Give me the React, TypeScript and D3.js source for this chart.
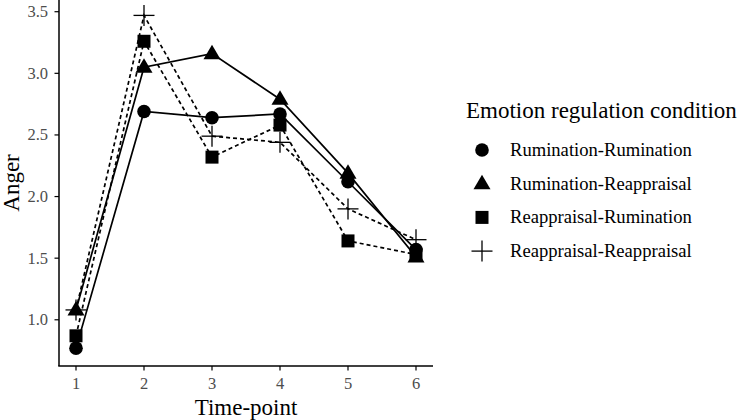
import React from "react";
import * as d3 from "d3";

const timePoints = [1, 2, 3, 4, 5, 6];
const seriesNames = [
  "Rumination-Rumination",
  "Rumination-Reappraisal",
  "Reappraisal-Rumination",
  "Reappraisal-Reappraisal",
];
const rumRum = [0.77, 2.69, 2.64, 2.67, 2.12, 1.57];
const rumReap = [1.08, 3.05, 3.16, 2.79, 2.19, 1.51];
const reapRum = [0.87, 3.26, 2.32, 2.58, 1.64, 1.53];
const reapReap = [1.08, 3.47, 2.49, 2.44, 1.90, 1.65];
const seriesValues = [rumRum, rumReap, reapRum, reapReap];
const shapes = ["circle", "triangle", "square", "plus"];
const dashed = [false, false, true, true];
const yTicks = [1.0, 1.5, 2.0, 2.5, 3.0, 3.5];
const legendTitle = "Emotion regulation condition";
const xTitle = "Time-point";
const yTitle = "Anger";

const FONT = "Liberation Serif";

function Marker({ shape, x, y }: { shape: string; x: number; y: number }) {
  if (shape === "circle") return <circle cx={x} cy={y} r={6.8} fill="black" />;
  if (shape === "square")
    return <rect x={x - 6.5} y={y - 6.5} width={13} height={13} fill="black" />;
  if (shape === "triangle") {
    const s = 8.5;
    const pts = [
      [x, y - s * 1.05],
      [x - s, y + s * 0.65],
      [x + s, y + s * 0.65],
    ];
    return <polygon points={pts.map((p) => p.join(",")).join(" ")} fill="black" />;
  }
  const h = 10.5;
  return (
    <g stroke="black" strokeWidth={1.3}>
      <line x1={x - h} x2={x + h} y1={y} y2={y} />
      <line x1={x} x2={x} y1={y - h} y2={y + h} />
    </g>
  );
}

export default function App() {
  const W = 740,
    H = 420;
  const left = 59,
    right = 433,
    top = 0,
    bottom = 366;
  const x = d3.scaleLinear().domain([0.75, 6.25]).range([left, right]);
  const y = d3.scaleLinear().domain([0.625, 3.595]).range([bottom, top]);
  const line = d3
    .line<number>()
    .x((_, i) => x(timePoints[i]))
    .y((d) => y(d));

  return (
    <svg
      width={W}
      height={H}
      style={{ position: "absolute", left: 0, top: 0, background: "white", fontFamily: FONT }}
    >
      {/* axes */}
      <line x1={left} x2={left} y1={top} y2={bottom} stroke="black" strokeWidth={1.5} />
      <line x1={left - 0.75} x2={right} y1={bottom} y2={bottom} stroke="black" strokeWidth={1.5} />
      {yTicks.map((t) => (
        <g key={t}>
          <line x1={left - 4.5} x2={left} y1={y(t)} y2={y(t)} stroke="black" strokeWidth={1.2} />
          <text
            x={left - 11}
            y={y(t) + 5.5}
            textAnchor="end"
            fontSize={16.5}
            fill="#4d4d4d"
            style={{ fontFamily: FONT }}
          >
            {t.toFixed(1)}
          </text>
        </g>
      ))}
      {timePoints.map((t) => (
        <g key={t}>
          <line x1={x(t)} x2={x(t)} y1={bottom} y2={bottom + 4.5} stroke="black" strokeWidth={1.2} />
          <text
            x={x(t)}
            y={bottom + 23}
            textAnchor="middle"
            fontSize={16.5}
            fill="#4d4d4d"
            style={{ fontFamily: FONT }}
          >
            {t}
          </text>
        </g>
      ))}
      <text x={(left + right) / 2} y={415} textAnchor="middle" fontSize={23} style={{ fontFamily: FONT }}>
        {xTitle}
      </text>
      <text
        transform={`translate(19, ${(top + bottom) / 2}) rotate(-90)`}
        textAnchor="middle"
        fontSize={23}
        style={{ fontFamily: FONT }}
      >
        {yTitle}
      </text>

      {/* lines */}
      {seriesValues.map((vals, i) => (
        <path
          key={"l" + i}
          d={line(vals) || ""}
          fill="none"
          stroke="black"
          strokeWidth={1.7}
          strokeDasharray={dashed[i] ? "4,3" : undefined}
        />
      ))}
      {/* points */}
      {seriesValues.map((vals, i) =>
        vals.map((v, j) => (
          <Marker key={"p" + i + "-" + j} shape={shapes[i]} x={x(timePoints[j])} y={y(v)} />
        ))
      )}

      {/* legend */}
      <text x={466} y={118} fontSize={23} style={{ fontFamily: FONT }}>
        {legendTitle}
      </text>
      {seriesNames.map((n, i) => {
        const cy = 150 + i * 33.7;
        return (
          <g key={n}>
            <Marker shape={shapes[i]} x={482} y={cy} />
            <text x={510} y={cy + 6} fontSize={18.6} style={{ fontFamily: FONT }}>
              {n}
            </text>
          </g>
        );
      })}
    </svg>
  );
}
